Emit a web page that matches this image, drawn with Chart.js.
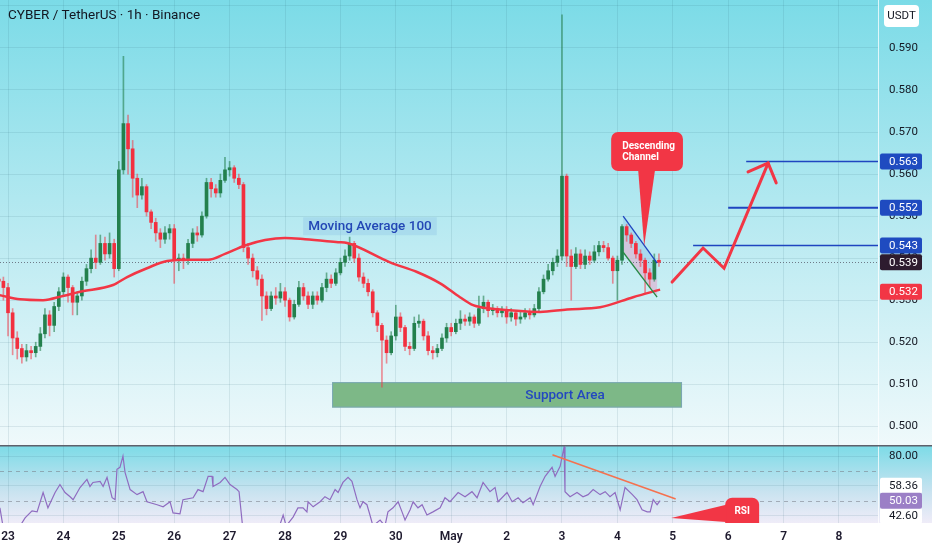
<!DOCTYPE html>
<html><head><meta charset="utf-8">
<script src="https://cdn.jsdelivr.net/npm/chart.js@4.4.1/dist/chart.umd.min.js"></script>
<style>html,body{margin:0;padding:0;background:#fff;}canvas{display:block;}</style>
</head><body>
<canvas id="c" width="932" height="550"></canvas>
<script>
// ---- data (hours measured from Apr 23 00:00) ----
const candleStartHour = -4;
const candleStepHours = 2;
const opens = [
0.5350,0.5345,0.5330,0.5270,0.5210,0.5185,0.5165,0.5180,0.5175,0.5190,
0.5220,0.5265,0.5240,0.5285,0.5320,0.5355,0.5330,0.5295,0.5310,0.5345,
0.5375,0.5400,0.5390,0.5435,0.5410,0.5435,0.5375,0.5610,0.5720,0.5660,
0.5590,0.5550,0.5570,0.5510,0.5485,0.5460,0.5445,0.5460,0.5470,0.5395,
0.5400,0.5395,0.5435,0.5460,0.5455,0.5500,0.5580,0.5565,0.5555,0.5585,
0.5610,0.5615,0.5590,0.5575,0.5425,0.5400,0.5370,0.5350,0.5310,0.5280,
0.5310,0.5305,0.5320,0.5300,0.5260,0.5290,0.5330,0.5310,0.5290,0.5310,
0.5300,0.5330,0.5350,0.5340,0.5365,0.5390,0.5405,0.5435,0.5400,0.5355,
0.5340,0.5320,0.5270,0.5240,0.5205,0.5175,0.5215,0.5260,0.5235,0.5190,
0.5185,0.5245,0.5250,0.5215,0.5180,0.5175,0.5185,0.5210,0.5235,0.5225,
0.5245,0.5255,0.5250,0.5260,0.5245,0.5280,0.5295,0.5275,0.5280,0.5270,
0.5275,0.5260,0.5270,0.5255,0.5260,0.5270,0.5265,0.5280,0.5320,0.5350,
0.5370,0.5390,0.5405,0.5595,0.5405,0.5380,0.5410,0.5385,0.5405,0.5395,
0.5415,0.5430,0.5425,0.5400,0.5370,0.5395,0.5475,0.5455,0.5435,0.5410,
0.5395,0.5365,0.5350,0.5395];
const highs = [
0.5365,0.5355,0.5340,0.5280,0.5225,0.5195,0.5195,0.5190,0.5200,0.5235,
0.5280,0.5275,0.5295,0.5330,0.5365,0.5360,0.5335,0.5320,0.5355,0.5385,
0.5420,0.5455,0.5455,0.5450,0.5460,0.5445,0.5630,0.5880,0.5740,0.5680,
0.5600,0.5590,0.5575,0.5515,0.5495,0.5470,0.5475,0.5480,0.5480,0.5410,
0.5410,0.5445,0.5470,0.5475,0.5510,0.5590,0.5590,0.5575,0.5600,0.5640,
0.5630,0.5620,0.5600,0.5580,0.5435,0.5410,0.5380,0.5360,0.5320,0.5320,
0.5330,0.5340,0.5330,0.5305,0.5300,0.5345,0.5340,0.5320,0.5320,0.5320,
0.5340,0.5365,0.5360,0.5375,0.5400,0.5420,0.5450,0.5440,0.5410,0.5365,
0.5350,0.5325,0.5275,0.5245,0.5215,0.5225,0.5288,0.5270,0.5240,0.5200,
0.5260,0.5265,0.5255,0.5225,0.5190,0.5195,0.5220,0.5245,0.5245,0.5255,
0.5275,0.5265,0.5270,0.5265,0.5310,0.5310,0.5300,0.5290,0.5285,0.5285,
0.5285,0.5280,0.5275,0.5275,0.5280,0.5280,0.5290,0.5330,0.5360,0.5385,
0.5400,0.5420,0.5979,0.5600,0.5420,0.5425,0.5420,0.5420,0.5415,0.5430,
0.5440,0.5440,0.5435,0.5405,0.5405,0.5480,0.5480,0.5460,0.5440,0.5420,
0.5400,0.5375,0.5410,0.5410];
const lows = [
0.5320,0.5300,0.5215,0.5170,0.5160,0.5150,0.5155,0.5160,0.5165,0.5180,
0.5210,0.5215,0.5225,0.5275,0.5310,0.5295,0.5265,0.5265,0.5300,0.5335,
0.5365,0.5375,0.5385,0.5395,0.5400,0.5355,0.5370,0.5600,0.5600,0.5545,
0.5520,0.5540,0.5500,0.5470,0.5440,0.5425,0.5435,0.5445,0.5340,0.5370,
0.5375,0.5385,0.5425,0.5440,0.5450,0.5495,0.5545,0.5545,0.5545,0.5580,
0.5595,0.5580,0.5565,0.5415,0.5385,0.5355,0.5335,0.5252,0.5265,0.5275,
0.5290,0.5295,0.5285,0.5250,0.5255,0.5285,0.5300,0.5280,0.5280,0.5290,
0.5295,0.5320,0.5330,0.5335,0.5360,0.5380,0.5395,0.5390,0.5345,0.5330,
0.5310,0.5260,0.5225,0.5093,0.5150,0.5170,0.5205,0.5225,0.5180,0.5170,
0.5180,0.5235,0.5205,0.5170,0.5160,0.5165,0.5180,0.5200,0.5215,0.5220,
0.5230,0.5240,0.5240,0.5235,0.5240,0.5270,0.5260,0.5265,0.5260,0.5260,
0.5245,0.5250,0.5240,0.5245,0.5255,0.5255,0.5260,0.5275,0.5315,0.5345,
0.5360,0.5380,0.5395,0.5380,0.5300,0.5375,0.5375,0.5375,0.5385,0.5390,
0.5405,0.5415,0.5395,0.5340,0.5300,0.5385,0.5440,0.5425,0.5400,0.5380,
0.5315,0.5330,0.5345,0.5380];
const closes = [
0.5345,0.5330,0.5270,0.5210,0.5185,0.5165,0.5180,0.5175,0.5190,0.5220,
0.5265,0.5240,0.5285,0.5320,0.5355,0.5330,0.5295,0.5310,0.5345,0.5375,
0.5400,0.5390,0.5435,0.5410,0.5435,0.5375,0.5610,0.5720,0.5660,0.5590,
0.5550,0.5570,0.5510,0.5485,0.5460,0.5445,0.5460,0.5470,0.5395,0.5400,
0.5395,0.5435,0.5460,0.5455,0.5500,0.5580,0.5565,0.5555,0.5585,0.5610,
0.5615,0.5590,0.5575,0.5425,0.5400,0.5370,0.5350,0.5310,0.5280,0.5310,
0.5305,0.5320,0.5300,0.5260,0.5290,0.5330,0.5310,0.5290,0.5310,0.5300,
0.5330,0.5350,0.5340,0.5365,0.5390,0.5405,0.5435,0.5400,0.5355,0.5340,
0.5320,0.5270,0.5240,0.5205,0.5175,0.5215,0.5260,0.5235,0.5190,0.5185,
0.5245,0.5250,0.5215,0.5180,0.5175,0.5185,0.5210,0.5235,0.5225,0.5245,
0.5255,0.5250,0.5260,0.5245,0.5280,0.5295,0.5275,0.5280,0.5270,0.5275,
0.5260,0.5270,0.5255,0.5260,0.5270,0.5265,0.5280,0.5320,0.5350,0.5370,
0.5390,0.5405,0.5595,0.5405,0.5380,0.5410,0.5385,0.5405,0.5395,0.5415,
0.5430,0.5425,0.5400,0.5370,0.5395,0.5475,0.5455,0.5435,0.5410,0.5395,
0.5365,0.5350,0.5395,0.5390];

const maHours = [-3.5,5.2,15.2,23.8,31.2,45.5,51.6,60.2,68.9,78.9,86.7,94.0,102.7,111.4,120.0,128.7,143.0,146.9,165.5,177.2,187.2,195.8,201.5,208.8,217.5,230.5,242.2,256.5,270.8,282.5];
const maValues = [0.5312,0.5302,0.5300,0.5310,0.5320,0.5336,0.5355,0.5376,0.5393,0.5396,0.5396,0.5410,0.5430,0.5443,0.5448,0.5445,0.5438,0.5436,0.5390,0.5367,0.5340,0.5307,0.5288,0.5280,0.5276,0.5272,0.5278,0.5283,0.5307,0.5325];

const rsiHours = [-3.5,-2.2,0.9,5.2,7.4,10.4,12.6,15.2,17.3,20.4,
22.5,24.7,26.9,28.2,31.2,34.2,35.5,36.8,39.9,41.2,
42.9,45.1,46.4,47.2,48.5,49.8,50.7,52.9,55.9,58.5,
60.2,64.6,67.2,70.2,71.5,74.5,75.8,80.2,82.3,84.5,
86.7,88.4,88.8,91.9,94.0,96.2,99.2,100.1,101.8,104.9,
111.4,117.0,119.2,120.5,123.5,125.6,127.8,129.5,130.0,132.2,
135.2,137.3,139.5,141.7,143.0,145.1,147.3,149.0,151.2,152.5,
153.8,155.5,156.8,158.1,161.2,163.3,164.6,166.8,169.0,170.7,
172.0,174.2,175.5,177.6,179.4,181.5,184.1,187.2,189.3,191.5,
195.0,198.0,201.0,203.2,205.8,208.8,211.0,212.3,216.2,218.4,
221.0,223.1,226.2,227.5,230.5,232.7,235.7,237.0,239.2,240.9,
241.3,243.5,246.5,249.1,251.3,253.5,256.5,258.7,260.8,263.0,
265.2,267.3,270.5,272.5,274.7,276.9,278.2,279.5,281.2,282.5];
const rsiValues = [45.2,33,31,33,38.4,43.2,42.5,55.5,45.2,55.5,
60.9,55.5,52.7,50.7,58.9,64.3,59.6,62.3,63,59.6,
65.7,52,50.7,71.2,72.5,80,69.1,57.5,54.1,56.1,
49.3,47.3,45.9,49.3,41.8,41.1,50.7,52,57.5,56.1,
66.4,66.4,59.6,62.3,65.7,60.9,57.5,56.1,30,26,
24,30,40.4,33,39,45.2,45.2,42.5,49.3,45.9,
49.3,52.7,50.7,57.5,55.5,62.3,65.7,63,50.7,45.2,
49.3,47.3,40.4,33,37,33,42.5,45.2,49.3,42.5,
37,43.9,49.3,45.2,47.3,40.4,42.5,45.2,52,49.3,
55.5,52.7,56.1,52,62.3,56.1,58.9,49.3,55.5,49.3,
52,48.6,52,47.3,59.6,66.4,72.5,66.4,73.2,86.2,
56.1,52.7,55.5,52.7,54.1,57.5,54.1,56.1,52.7,55.5,
43.9,58.9,54.1,50.7,43.9,42.5,42.5,50.7,47.3,50.0];

const dayLabels = ['23','24','25','26','27','28','29','30','May','2','3','4','5','6','7','8'];
const priceTicks = {min: 0.49555, max: 0.6014, step: 0.01};
const rsiRange = {min: 35, max: 87.5, step: 10};

// drawing annotations (data coordinates)
const lastPrice = 0.539;
const lastMA = 0.532;
const targetLevels = [0.563, 0.552, 0.543];
const targetStartHours = [319.8, 312.0, 296.8];
const supportZone = [140.4, 292.0, 0.50445, 0.5105];
const channelUpper = [[266.5, 0.5500], [281.2, 0.5388]];
const channelLower = [[266.5, 0.5414], [281.2, 0.5307]];
const projectionPath = [[287.7, 0.5343], [301.1, 0.5424], [310.2, 0.5376], [329.3, 0.5626]];
const arrowHeadEnds = [[320.6, 0.5605], [332.8, 0.5579]];
const maLabelAt = [156.8, 0.5476];
const supportLabelAt = [241.3, 0.5075];
const channelCallout = {tip: [275.6, 0.5429], box: [261.3, 292.4, 0.5700, 0.5607], base: [273.0, 280.3]};
const rsiTrend = [[236.1, 80.7], [289.0, 51.4]];
const rsiCallout = {tip: [287.3, 38.4], box: [310.7, 325.4, 52.0], base: [47.3, 35.7]};
const rsiLast = 50.03;
const rsiSideValues = [58.36, 42.60];
const rsiLevels = [70, 50];

// ---- chart ----
Chart.defaults.font.family = 'Roboto, "Noto Sans", sans-serif';
Chart.defaults.color = '#131722';

const candleHours = closes.map((_, i) => candleStartHour + i * candleStepHours);
const isUp = closes.map((c, i) => c >= opens[i]);
const GRID = 'rgba(40,90,110,0.11)';

function rr(ctx, x, y, w, h, r) {
  ctx.beginPath();
  if (ctx.roundRect) ctx.roundRect(x, y, w, h, r); else ctx.rect(x, y, w, h);
}

const deco = {
  id: 'deco',
  beforeDraw(chart) {
    const {ctx, width, height} = chart;
    const y = chart.scales.y, r = chart.scales.rsi;
    ctx.save();
    ctx.fillStyle = '#ffffff';
    ctx.fillRect(0, 0, width, height);
    let g = ctx.createLinearGradient(0, y.top, 0, y.bottom);
    g.addColorStop(0, '#7bdbe7');
    g.addColorStop(0.55, '#bdebf2');
    g.addColorStop(1, '#eff9fb');
    ctx.fillStyle = g;
    ctx.fillRect(0, y.top, width, y.bottom - y.top);
    g = ctx.createLinearGradient(0, r.top, 0, r.bottom);
    g.addColorStop(0, '#7bdbe7');
    g.addColorStop(0.6, '#c9e3f0');
    g.addColorStop(1, '#efecf8');
    ctx.fillStyle = g;
    ctx.fillRect(0, r.top, width, r.bottom - r.top);
    ctx.restore();
  },
  beforeDatasetsDraw(chart) {
    const {ctx, chartArea} = chart;
    const x = chart.scales.x, y = chart.scales.y, r = chart.scales.rsi;
    ctx.save();
    const sx1 = x.getPixelForValue(supportZone[0]), sx2 = x.getPixelForValue(supportZone[1]);
    const sy1 = y.getPixelForValue(supportZone[3]), sy2 = y.getPixelForValue(supportZone[2]);
    ctx.fillStyle = '#7db887';
    ctx.fillRect(sx1, sy1, sx2 - sx1, sy2 - sy1);
    ctx.strokeStyle = 'rgba(120,160,200,0.7)';
    ctx.lineWidth = 1;
    ctx.strokeRect(sx1 + 0.5, sy1 + 0.5, sx2 - sx1 - 1, sy2 - sy1 - 1);
    const P = p => [x.getPixelForValue(p[0]), y.getPixelForValue(p[1])];
    const a = P(channelUpper[0]), b = P(channelUpper[1]), c = P(channelLower[1]), d = P(channelLower[0]);
    const mA = [(a[0] + d[0]) / 2, (a[1] + d[1]) / 2], mB = [(b[0] + c[0]) / 2, (b[1] + c[1]) / 2];
    ctx.fillStyle = 'rgba(150,205,235,0.55)';
    ctx.beginPath(); ctx.moveTo(...a); ctx.lineTo(...b); ctx.lineTo(...mB); ctx.lineTo(...mA); ctx.closePath(); ctx.fill();
    ctx.fillStyle = 'rgba(222,172,205,0.6)';
    ctx.beginPath(); ctx.moveTo(...mA); ctx.lineTo(...mB); ctx.lineTo(...c); ctx.lineTo(...d); ctx.closePath(); ctx.fill();
    const ly = Math.round(y.getPixelForValue(lastPrice)) + 0.5;
    ctx.strokeStyle = 'rgba(90,95,110,0.8)';
    ctx.setLineDash([1, 2]);
    ctx.beginPath(); ctx.moveTo(chartArea.left, ly); ctx.lineTo(chartArea.right, ly); ctx.stroke();
    ctx.strokeStyle = 'rgba(120,123,134,0.55)';
    ctx.setLineDash([4, 4]);
    rsiLevels.forEach(v => {
      const yy = Math.round(r.getPixelForValue(v)) + 0.5;
      ctx.beginPath(); ctx.moveTo(chartArea.left, yy); ctx.lineTo(chartArea.right, yy); ctx.stroke();
    });
    ctx.restore();
  },
  afterDatasetsDraw(chart) {
    const {ctx, chartArea, width} = chart;
    const x = chart.scales.x, y = chart.scales.y, r = chart.scales.rsi;
    const P = p => [x.getPixelForValue(p[0]), y.getPixelForValue(p[1])];
    ctx.save();
    ctx.lineWidth = 1.3;
    ctx.strokeStyle = '#1f45c0';
    ctx.beginPath(); ctx.moveTo(...P(channelUpper[0])); ctx.lineTo(...P(channelUpper[1])); ctx.stroke();
    ctx.strokeStyle = '#278a45';
    ctx.beginPath(); ctx.moveTo(...P(channelLower[0])); ctx.lineTo(...P(channelLower[1])); ctx.stroke();
    ctx.strokeStyle = '#1f45c0';
    targetLevels.forEach((lv, i) => {
      const yy = y.getPixelForValue(lv);
      ctx.lineWidth = i === 1 ? 2 : 1.5;
      ctx.beginPath(); ctx.moveTo(x.getPixelForValue(targetStartHours[i]), yy); ctx.lineTo(chartArea.right, yy); ctx.stroke();
    });
    ctx.strokeStyle = '#f23645';
    ctx.lineWidth = 3;
    ctx.lineCap = 'round';
    ctx.lineJoin = 'miter';
    ctx.beginPath();
    projectionPath.forEach((p, i) => { const q = P(p); if (i === 0) ctx.moveTo(...q); else ctx.lineTo(...q); });
    ctx.stroke();
    const tip = P(projectionPath[projectionPath.length - 1]);
    ctx.beginPath();
    ctx.moveTo(...P(arrowHeadEnds[0])); ctx.lineTo(...tip); ctx.lineTo(...P(arrowHeadEnds[1]));
    ctx.stroke();
    ctx.strokeStyle = '#f5714f';
    ctx.lineWidth = 1.6;
    ctx.beginPath();
    ctx.moveTo(x.getPixelForValue(rsiTrend[0][0]), r.getPixelForValue(rsiTrend[0][1]));
    ctx.lineTo(x.getPixelForValue(rsiTrend[1][0]), r.getPixelForValue(rsiTrend[1][1]));
    ctx.stroke();

    ctx.font = '500 13.5px Roboto';
    ctx.textBaseline = 'middle';
    ctx.textAlign = 'center';
    const ml = P(maLabelAt);
    const mw = ctx.measureText('Moving Average 100').width;
    ctx.fillStyle = 'rgba(140,195,230,0.35)';
    ctx.fillRect(ml[0] - mw / 2 - 5, ml[1] - 9, mw + 10, 18);
    ctx.fillStyle = '#2347b5';
    ctx.fillText('Moving Average 100', ml[0], ml[1] + 0.5);
    const sl = P(supportLabelAt);
    ctx.fillStyle = '#2347c0';
    ctx.fillText('Support Area', sl[0], sl[1] + 0.5);

    const cc = channelCallout;
    const bx1 = x.getPixelForValue(cc.box[0]), bx2 = x.getPixelForValue(cc.box[1]);
    const by1 = y.getPixelForValue(cc.box[2]), by2 = y.getPixelForValue(cc.box[3]);
    const t = P(cc.tip);
    ctx.fillStyle = '#f23645';
    rr(ctx, bx1, by1, bx2 - bx1, by2 - by1, 7); ctx.fill();
    ctx.beginPath();
    ctx.moveTo(x.getPixelForValue(cc.base[0]), by2 - 1);
    ctx.lineTo(t[0], t[1]);
    ctx.lineTo(x.getPixelForValue(cc.base[1]), by2 - 1);
    ctx.closePath(); ctx.fill();
    ctx.fillStyle = '#ffffff';
    ctx.font = 'bold 10px Roboto';
    ctx.textAlign = 'left';
    ctx.fillText('Descending', bx1 + 11, by1 + 14);
    ctx.fillText('Channel', bx1 + 11, by1 + 25);

    ctx.save();
    ctx.beginPath(); ctx.rect(chartArea.left, r.top, chartArea.right - chartArea.left, r.bottom - r.top); ctx.clip();
    const rc = rsiCallout;
    const rx1 = x.getPixelForValue(rc.box[0]), rx2 = x.getPixelForValue(rc.box[1]);
    const ry1 = r.getPixelForValue(rc.box[2]);
    ctx.fillStyle = '#f23645';
    rr(ctx, rx1, ry1, rx2 - rx1, r.bottom - ry1 + 8, 7); ctx.fill();
    ctx.beginPath();
    ctx.moveTo(x.getPixelForValue(rc.tip[0]), r.getPixelForValue(rc.tip[1]));
    ctx.lineTo(rx1 + 1, r.getPixelForValue(rc.base[0]));
    ctx.lineTo(rx1 + 1, r.getPixelForValue(rc.base[1]));
    ctx.closePath(); ctx.fill();
    ctx.fillStyle = '#ffffff';
    ctx.font = 'bold 10px Roboto';
    ctx.textAlign = 'center';
    ctx.fillText('RSI', (rx1 + rx2) / 2, ry1 + 14);
    ctx.restore();

    ctx.fillStyle = '#5d606b';
    ctx.fillRect(0, y.bottom, width, 1.5);

    const axL = chartArea.right + 2, axW = 42, tx = chartArea.right + 11;
    function box(yy, text, bg, fg) {
      ctx.fillStyle = bg;
      rr(ctx, axL, yy - 8, axW, 16, 2); ctx.fill();
      ctx.fillStyle = fg;
      ctx.font = '11.5px Roboto';
      ctx.textAlign = 'left';
      ctx.textBaseline = 'middle';
      ctx.fillText(text, tx, yy + 0.5);
    }
    targetLevels.forEach(lv => box(y.getPixelForValue(lv), lv.toFixed(3), '#1f4bc0', '#ffffff'));
    box(y.getPixelForValue(lastPrice), lastPrice.toFixed(3), '#2d1c2f', '#ffffff');
    box(y.getPixelForValue(lastMA), lastMA.toFixed(3), '#f23645', '#ffffff');
    const yLast = r.getPixelForValue(rsiLast);
    box(Math.min(r.getPixelForValue(rsiSideValues[0]), yLast - 15), rsiSideValues[0].toFixed(2), '#ffffff', '#131722');
    box(Math.max(r.getPixelForValue(rsiSideValues[1]), yLast + 15), rsiSideValues[1].toFixed(2), '#ffffff', '#131722');
    box(yLast, rsiLast.toFixed(2), '#9b7fc6', '#ffffff');

    ctx.fillStyle = '#ffffff';
    rr(ctx, chartArea.right + 6, 5, 35, 22, 4); ctx.fill();
    ctx.fillStyle = '#131722';
    ctx.font = '11.5px Roboto';
    ctx.textAlign = 'center';
    ctx.fillText('USDT', chartArea.right + 23.5, 16.5);

    ctx.textAlign = 'left';
    ctx.font = '13.5px Roboto';
    ctx.fillStyle = '#131722';
    ctx.fillText('CYBER / TetherUS · 1h · Binance', 8, 16);
    ctx.restore();
  }
};

function fixY(w) {
  return function (scale) {
    scale.width = w;
    scale.paddingTop = 0; scale.paddingBottom = 0;
    scale.paddingLeft = 0; scale.paddingRight = 0;
  };
}

new Chart(document.getElementById('c'), {
  type: 'bar',
  data: {
    datasets: [
      {
        type: 'bar', label: 'wick', yAxisID: 'y', xAxisID: 'x', order: 4, grouped: false,
        data: candleHours.map((h, i) => ({x: h, y: [lows[i], highs[i]]})),
        backgroundColor: isUp.map(u => u ? 'rgba(36,128,78,0.6)' : 'rgba(242,54,69,0.55)'),
        barThickness: 1, borderWidth: 0
      },
      {
        type: 'bar', label: 'body', yAxisID: 'y', xAxisID: 'x', order: 3, grouped: false,
        data: candleHours.map((h, i) => ({x: h, y: [opens[i], closes[i]]})),
        backgroundColor: isUp.map(u => u ? '#23804d' : '#f2303f'),
        barThickness: 3, borderWidth: 0, minBarLength: 1
      },
      {
        type: 'line', label: 'MA 100', yAxisID: 'y', xAxisID: 'x', order: 2,
        data: maHours.map((h, i) => ({x: h, y: maValues[i]})),
        borderColor: '#f23645', borderWidth: 2.5, pointRadius: 0,
        cubicInterpolationMode: 'monotone', fill: false
      },
      {
        type: 'line', label: 'RSI', yAxisID: 'rsi', xAxisID: 'x', order: 1,
        data: rsiHours.map((h, i) => ({x: h, y: rsiValues[i]})),
        borderColor: '#8f6cc0', borderWidth: 1.2, pointRadius: 0, tension: 0, fill: false
      }
    ]
  },
  options: {
    responsive: false,
    animation: false,
    events: [],
    layout: {padding: 0},
    plugins: {legend: {display: false}, tooltip: {enabled: false}, title: {display: false}},
    scales: {
      x: {
        type: 'linear', position: 'bottom', min: -3.47, max: 376.9, offset: false,
        grid: {color: GRID, drawTicks: false, offset: false},
        border: {display: false},
        ticks: {
          stepSize: 24, includeBounds: false, autoSkip: false, maxRotation: 0, padding: 7,
          font: {size: 12, weight: '600'}, color: '#1e1a2e',
          callback: v => dayLabels[Math.round(v / 24)] ?? ''
        },
        afterFit: s => { s.height = 27; s.paddingLeft = 0; s.paddingRight = 0; }
      },
      y: {
        type: 'linear', axis: 'y', position: 'right', stack: 'pane', stackWeight: 445,
        min: priceTicks.min, max: priceTicks.max, offset: false,
        grid: {color: GRID, drawTicks: false},
        border: {color: 'rgba(255,255,255,0.75)'},
        ticks: {
          stepSize: priceTicks.step, includeBounds: false, padding: 11, font: {size: 11.5}, color: '#131722',
          callback: v => (v > 0.595 ? '' : Number(v).toFixed(3))
        },
        afterFit: fixY(54)
      },
      rsi: {
        type: 'linear', axis: 'y', position: 'right', stack: 'pane', stackWeight: 78,
        min: rsiRange.min, max: rsiRange.max, offset: false,
        grid: {color: ctx => (ctx.tick && (ctx.tick.value === 50 || ctx.tick.value === 70)) ? 'rgba(0,0,0,0)' : GRID, drawTicks: false},
        border: {color: 'rgba(255,255,255,0.75)'},
        ticks: {
          stepSize: rsiRange.step, includeBounds: false, padding: 11, font: {size: 11.5}, color: '#131722',
          callback: v => (v === 80 ? '80.00' : '')
        },
        afterFit: fixY(54)
      }
    }
  },
  plugins: [deco]
});
</script>
</body></html>
